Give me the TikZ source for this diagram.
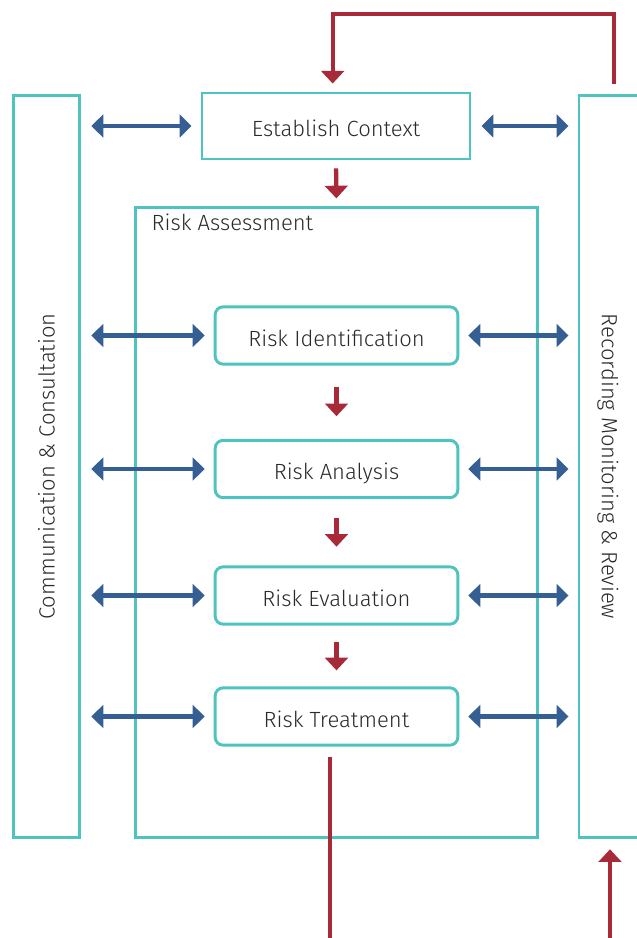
\documentclass[tikz,border=0pt]{standalone}
\usepackage{fontspec}
\setmainfont{Fira Sans}[UprightFont=* Light]
\usetikzlibrary{arrows.meta, positioning, calc}
\definecolor{frame}{HTML}{4EC3C0}
\definecolor{flow} {HTML}{A82A38}
\definecolor{talk} {HTML}{355E93}
\definecolor{ink}  {HTML}{2A2A2A}

\begin{document}
\begin{tikzpicture}[x=0.75pt, y=-0.75pt,
    panel/.style={draw=frame, line width=2.2pt, inner sep=0pt, text=ink,
                  font=\fontsize{16.5}{19}\selectfont},
    stage/.style={draw=frame, line width=2.2pt, rounded corners=6pt,
                  minimum width=182pt, minimum height=43pt, text=ink,
                  text height=17pt, text depth=1pt,
                  font=\fontsize{16.5}{19}\selectfont},
    talkline/.style={{Triangle[length=9pt, width=17pt]}-{Triangle[length=9pt, width=17pt]},
                     talk, line width=3.2pt},
    flowline/.style={-{Triangle[length=9.5pt, width=17pt]}, flow, line width=3.2pt}
  ]
    \useasboundingbox (0,0) rectangle (636,938);

    % side panels and the assessment frame
    \node[panel, minimum width=50pt, minimum height=556pt] (comm) at (46.5,466.5) {};
    \node[rotate=90, text=ink, font=\fontsize{16.5}{19}\selectfont] (commtxt) at (comm.center)
      {Communication \& Consultation};
    \node[panel, minimum width=49.5pt, minimum height=556pt] (rec) at (612,466.5) {};
    \node[rotate=-90, text=ink, font=\fontsize{16.5}{19}\selectfont] (rectxt) at (608,466.5)
      {Recording Monitoring \& Review};
    \node[panel, minimum width=301pt, minimum height=472pt] (ra) at (336.5,522.5) {};
    \node[anchor=north west, text=ink, font=\fontsize{16.5}{19}\selectfont] (ratxt)
      at ([xshift=9.5pt, yshift=-2pt]ra.north west) {Risk Assessment};

    % process boxes
    \node[panel, minimum width=201pt, minimum height=49.5pt,
          text height=17pt, text depth=1pt] (ec) at (336,126) {Establish Context};
    \node[stage] (id) at (336.5,335.5) {Risk Identification};
    \node[stage] (an) at (336.5,469)   {Risk Analysis};
    \node[stage] (ev) at (336.5,595.5) {Risk Evaluation};
    \node[stage] (tr) at (336.5,716.5) {Risk Treatment};

    % two-way links to the side panels
    \draw[talkline, shorten <=7.5pt, shorten >=6.75pt] (comm.east |- ec.west) -- (ec.west);
    \draw[talkline, shorten <=7.5pt, shorten >=6.75pt] (ec.east) -- (rec.west |- ec.east);
    \foreach \s in {id, an, ev, tr} {
      \draw[talkline, shorten <=7.5pt, shorten >=6.75pt] (comm.east |- \s.west) -- (\s.west);
      \draw[talkline, shorten <=6.75pt, shorten >=6.75pt] (\s.east) -- (rec.west |- \s.east);
    }

    % main flow
    \draw[flowline, shorten <=6pt, shorten >=6pt] (ec.south) -- (ra.north);
    \draw[flowline, shorten <=16pt, shorten >=17pt] (id.south) -- (an.north);
    \draw[flowline, shorten <=14pt, shorten >=14pt] (an.south) -- (ev.north);
    \draw[flowline, shorten <=12pt, shorten >=12pt] (ev.south) -- (tr.north);

    % feedback loop
    \draw[flowline, shorten <=7.5pt, shorten >=6pt]
      ([xshift=1.5pt]rec.north) -- ++(0,-80) -| ([xshift=-2.5pt]ec.north);
    \coordinate (out) at (330,945);
    \coordinate (back) at (610,945);
    \draw[flow, line width=3.2pt, shorten <=7.5pt] (out |- tr.south) -- (out);
    \draw[flowline, shorten >=8pt] (back) -- (back |- rec.south);
\end{tikzpicture}
\end{document}
